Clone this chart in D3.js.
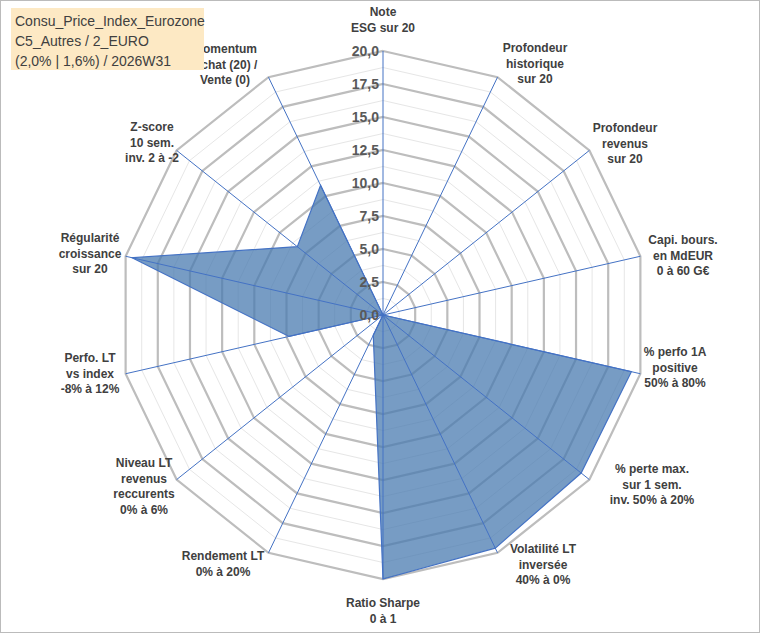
<!DOCTYPE html>
<html><head><meta charset="utf-8">
<script src="https://cdn.jsdelivr.net/npm/d3@7"></script>
<style>body{margin:0;background:#fff}svg{font-family:Arial,"Liberation Sans",sans-serif}</style>
</head><body>
<svg id="chart" width="760" height="633"></svg>
<script>
const axesLabels = [
  ['Note', 'ESG sur 20'],
  ['Profondeur', 'historique', 'sur 20'],
  ['Profondeur', 'revenus', 'sur 20'],
  ['Capi. bours.', 'en MdEUR', '0 à 60 G€'],
  ['% perfo 1A', 'positive', '50% à 80%'],
  ['% perte max.', 'sur 1 sem.', 'inv. 50% à 20%'],
  ['Volatilité LT', 'inversée', '40% à 0%'],
  ['Ratio Sharpe', '0 à 1'],
  ['Rendement LT', '0% à 20%'],
  ['Niveau LT', 'revenus', 'reccurents', '0% à 6%'],
  ['Perfo. LT', 'vs index', '-8% à 12%'],
  ['Régularité', 'croissance', 'sur 20'],
  ['Z-score', '10 sem.', 'inv. 2 à -2'],
  ['Momentum', 'Achat (20) /', 'Vente (0)']
];
const scores = [0, 0, 0, 0, 19.3, 19.2, 19.6, 20, 1.7, 0, 7.3, 19.5, 8.3, 10.9];
const tickValues = [0, 2.5, 5, 7.5, 10, 12.5, 15, 17.5, 20];
const titleLines = ['Consu_Price_Index_Eurozone', 'C5_Autres / 2_EURO', '(2,0% | 1,6%) / 2026W31'];

const svg = d3.select('#chart');
svg.append('rect').attr('x', 0.5).attr('y', 0.5).attr('width', 759).attr('height', 632)
  .attr('fill', '#fff').attr('stroke', '#bbb');

const cx = 383, cy = 315, R = 264, n = axesLabels.length;
const r = d3.scaleLinear().domain([0, 20]).range([0, R]);
const ang = i => i * 2 * Math.PI / n;
const pt = (i, v) => [cx + r(v) * Math.sin(ang(i)), cy - r(v) * Math.cos(ang(i))];

// grid: minor every 1.25, major every 2.5
const gridVals = d3.range(1.25, 20.01, 1.25);
const g = svg.append('g');
gridVals.forEach(v => {
  const major = Math.abs(v / 2.5 - Math.round(v / 2.5)) < 1e-6;
  g.append('polygon')
    .attr('points', d3.range(n).map(i => pt(i, v).join(',')).join(' '))
    .attr('fill', 'none')
    .attr('stroke', major ? '#bdbdbd' : '#e6e6e6')
    .attr('stroke-width', major ? 2.2 : 1);
});

// data polygon
const area = svg.append('polygon')
  .attr('points', scores.map((v, i) => pt(i, v).join(',')).join(' '))
  .attr('fill', '#4a7bb0').attr('fill-opacity', 0.75)
  .attr('stroke', '#4472c4').attr('stroke-width', 1.2);

// spokes
d3.range(n).forEach(i => {
  const [x, y] = pt(i, 20);
  svg.append('line').attr('x1', cx).attr('y1', cy).attr('x2', x).attr('y2', y)
    .attr('stroke', '#4472c4').attr('stroke-width', 1);
});

// tick labels
svg.selectAll('.tick').data(tickValues).join('text')
  .attr('x', cx - 4).attr('y', d => cy - r(d) + 5)
  .attr('text-anchor', 'end').attr('font-size', 14).attr('font-weight', 'bold')
  .attr('fill', '#595959')
  .text(d => d3.format('.1f')(d).replace('.', ','));

// axis labels
const labelPos = [
  [383, 16, 'middle'], [535, 52, 'middle'], [625, 132, 'middle'], [683, 244, 'middle'],
  [675, 356, 'middle'], [652, 473, 'middle'], [543, 553, 'middle'], [383, 607, 'middle'],
  [223, 560, 'middle'], [144, 467, 'middle'], [90, 362, 'middle'], [90, 242, 'middle'],
  [152, 131, 'middle'], [225, 53, 'middle']
];
axesLabels.forEach((lines, i) => {
  const [x, y, a] = labelPos[i];
  const t = svg.append('text').attr('x', x).attr('y', y).attr('text-anchor', a)
    .attr('font-size', 12).attr('font-weight', 'bold').attr('fill', '#404040');
  lines.forEach((l, k) => t.append('tspan').attr('x', x).attr('dy', k ? 15.5 : 0).text(l));
});

// title box
svg.append('rect').attr('x', 11).attr('y', 8).attr('width', 193).attr('height', 62).attr('fill', '#fde9c4');
const tt = svg.append('text').attr('x', 15).attr('y', 26).attr('font-size', 14)
  .attr('font-family', 'Liberation Sans, Arial').attr('fill', '#404040');
titleLines.forEach((l, k) => tt.append('tspan').attr('x', 15).attr('dy', k ? 20 : 0).text(l));
</script>
</body></html>
